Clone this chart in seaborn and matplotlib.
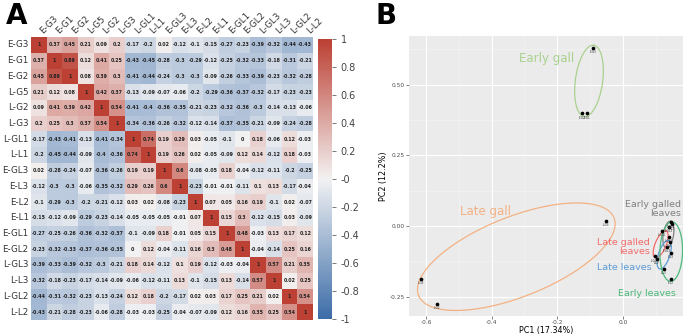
import numpy as np
import pandas as pd
import matplotlib
matplotlib.use('Agg')
import matplotlib.pyplot as plt
import seaborn as sns

# correlation matrix (panel A)
samples = ['E-G3', 'E-G1', 'E-G2', 'L-G5', 'L-G2', 'L-G3', 'L-GL1', 'L-L1', 'E-GL3',
           'E-L3', 'E-L2', 'E-L1', 'E-GL1', 'E-GL2', 'L-GL3', 'L-L3', 'L-GL2', 'L-L2']
corr_rows = [
    [1, 0.37, 0.45, 0.21, 0.09, 0.2, -0.17, -0.2, 0.02, -0.12, -0.1, -0.15, -0.27, -0.23, -0.39, -0.32, -0.44, -0.43],
    [0.37, 1, 0.89, 0.12, 0.41, 0.25, -0.43, -0.45, -0.28, -0.3, -0.29, -0.12, -0.25, -0.32, -0.33, -0.18, -0.31, -0.21],
    [0.45, 0.89, 1, 0.08, 0.39, 0.3, -0.41, -0.44, -0.24, -0.3, -0.3, -0.09, -0.26, -0.33, -0.39, -0.23, -0.32, -0.28],
    [0.21, 0.12, 0.08, 1, 0.42, 0.37, -0.13, -0.09, -0.07, -0.06, -0.2, -0.29, -0.36, -0.37, -0.32, -0.17, -0.23, -0.23],
    [0.09, 0.41, 0.39, 0.42, 1, 0.54, -0.41, -0.4, -0.36, -0.35, -0.21, -0.23, -0.32, -0.36, -0.3, -0.14, -0.13, -0.06],
    [0.2, 0.25, 0.3, 0.37, 0.54, 1, -0.34, -0.36, -0.26, -0.32, -0.12, -0.14, -0.37, -0.35, -0.21, -0.09, -0.24, -0.28],
    [-0.17, -0.43, -0.41, -0.13, -0.41, -0.34, 1, 0.74, 0.19, 0.29, 0.03, -0.05, -0.1, 0, 0.18, -0.06, 0.12, -0.03],
    [-0.2, -0.45, -0.44, -0.09, -0.4, -0.36, 0.74, 1, 0.19, 0.26, 0.02, -0.05, -0.09, 0.12, 0.14, -0.12, 0.18, -0.03],
    [0.02, -0.28, -0.24, -0.07, -0.36, -0.26, 0.19, 0.19, 1, 0.6, -0.08, -0.05, 0.18, -0.04, -0.12, -0.11, -0.2, -0.25],
    [-0.12, -0.3, -0.3, -0.06, -0.35, -0.32, 0.29, 0.26, 0.6, 1, -0.23, -0.01, -0.01, -0.11, 0.1, 0.13, -0.17, -0.04],
    [-0.1, -0.29, -0.3, -0.2, -0.21, -0.12, 0.03, 0.02, -0.08, -0.23, 1, 0.07, 0.05, 0.16, 0.19, -0.1, 0.02, -0.07],
    [-0.15, -0.12, -0.09, -0.29, -0.23, -0.14, -0.05, -0.05, -0.05, -0.01, 0.07, 1, 0.15, 0.3, -0.12, -0.15, 0.03, -0.09],
    [-0.27, -0.25, -0.26, -0.36, -0.32, -0.37, -0.1, -0.09, 0.18, -0.01, 0.05, 0.15, 1, 0.48, -0.03, 0.13, 0.17, 0.12],
    [-0.23, -0.32, -0.33, -0.37, -0.36, -0.35, 0, 0.12, -0.04, -0.11, 0.16, 0.3, 0.48, 1, -0.04, -0.14, 0.25, 0.16],
    [-0.39, -0.33, -0.39, -0.32, -0.3, -0.21, 0.18, 0.14, -0.12, 0.1, 0.19, -0.12, -0.03, -0.04, 1, 0.57, 0.21, 0.35],
    [-0.32, -0.18, -0.23, -0.17, -0.14, -0.09, -0.06, -0.12, -0.11, 0.13, -0.1, -0.15, 0.13, -0.14, 0.57, 1, 0.02, 0.25],
    [-0.44, -0.31, -0.32, -0.23, -0.13, -0.24, 0.12, 0.18, -0.2, -0.17, 0.02, 0.03, 0.17, 0.25, 0.21, 0.02, 1, 0.54],
    [-0.43, -0.21, -0.28, -0.23, -0.06, -0.28, -0.03, -0.03, -0.25, -0.04, -0.07, -0.09, 0.12, 0.16, 0.35, 0.25, 0.54, 1],
]

# PCA scores (panel B)
pc_labels = ['E-G3', 'E-G2', 'E-G1', 'L-G5', 'L-G2', 'L-G3',
             'E-GL1', 'E-GL2', 'E-GL3', 'L-GL1', 'L-GL2', 'L-GL3',
             'L-L1', 'L-L2', 'L-L3', 'E-L1', 'E-L3', 'E-L2']
pc1 = [-0.090, -0.124, -0.109, -0.614, -0.568, -0.052,
       0.146, 0.141, 0.133, 0.119, 0.140, 0.098,
       0.143, 0.103, 0.125, 0.150, 0.146, 0.146]
pc2 = [0.629, 0.399, 0.399, -0.188, -0.276, 0.019,
       0.013, -0.002, -0.074, -0.016, -0.039, -0.107,
       -0.057, -0.117, -0.152, 0.006, -0.095, -0.187]
groups = ['Early gall'] * 3 + ['Late gall'] * 3 + ['Early galled leaves'] * 3 + \
         ['Late galled leaves'] * 3 + ['Late leaves'] * 3 + ['Early leaves'] * 3
group_colors = {'Early gall': '#a9d18e', 'Late gall': '#f4b183',
                'Early galled leaves': '#7f7f7f', 'Late galled leaves': '#f26b6b',
                'Late leaves': '#5b9bd5', 'Early leaves': '#4cb87a'}

corr = pd.DataFrame(corr_rows, index=samples, columns=samples)
pca = pd.DataFrame({'PC1': pc1, 'PC2': pc2, 'label': pc_labels, 'group': groups})

fig = plt.figure(figsize=(6.85, 3.34), dpi=100)

# ---------------- Panel A ----------------
axA = fig.add_axes([0.045, 0.042, 0.412, 0.847])
cax = fig.add_axes([0.464, 0.045, 0.02, 0.838])
cmap = sns.diverging_palette(250, 15, s=75, l=45, as_cmap=True)
annot = corr.map(lambda v: f'{v:g}')
ticks = np.round(np.arange(-1, 1.01, 0.2), 1)
sns.heatmap(corr, ax=axA, cbar_ax=cax, cmap=cmap, vmin=-1, vmax=1,
            annot=annot, fmt='', annot_kws={'size': 3.4, 'weight': 'bold', 'color': '#222222'},
            linewidths=0)
axA.xaxis.tick_top()
axA.set_xticklabels(samples, rotation=45, ha='left', va='bottom', fontsize=6.3, color='#333333')
axA.set_yticklabels(samples, rotation=0, fontsize=6.3, color='#333333')
axA.tick_params(length=0, pad=1.5)
axA.set_xlabel('')
axA.set_ylabel('')
cax.set_yticks(ticks)
cax.set_yticklabels([f'{v:g}' for v in ticks])
cax.tick_params(labelsize=7, colors='#444444', length=3, width=0.5)
for s in cax.spines.values():
    s.set_visible(False)
fig.text(0.008, 0.995, 'A', fontsize=20, fontweight='bold', va='top', ha='left')

# ---------------- Panel B ----------------
axB = fig.add_axes([0.597, 0.054, 0.4, 0.838])
axB.set_facecolor('#ebebeb')
xlim = (-0.652, 0.183)
ylim = (-0.318, 0.672)
axB.set_xlim(*xlim)
axB.set_ylim(*ylim)
axB.set_xticks([-0.6, -0.4, -0.2, 0.0])
axB.set_yticks([-0.25, 0.0, 0.25, 0.5])
axB.set_xticks([-0.5, -0.3, -0.1, 0.1], minor=True)
axB.set_yticks([-0.125, 0.125, 0.375, 0.625], minor=True)
axB.grid(True, which='major', color='white', linewidth=0.8)
axB.grid(True, which='minor', color='#f5f5f5', linewidth=0.4)
axB.set_axisbelow(True)
for s in axB.spines.values():
    s.set_visible(False)
axB.set_xticklabels(['-0.6', '-0.4', '-0.2', '0.0'])
axB.set_yticklabels(['-0.25', '0.00', '0.25', '0.50'])
axB.tick_params(which='major', labelsize=4.2, colors='#4d4d4d', length=2, width=0.5, pad=1)
axB.tick_params(which='minor', length=0)

# ellipses around each group, computed in screen-like units so the shape is not squashed
sx = 685 * 0.4 / (xlim[1] - xlim[0])
sy = 334 * 0.838 / (ylim[1] - ylim[0])
t = np.linspace(0, 2 * np.pi, 200)
for g, sub in pca.groupby('group', sort=False):
    xy = sub[['PC1', 'PC2']].to_numpy() * [sx, sy]
    vals, vecs = np.linalg.eigh(np.cov(xy, rowvar=False))
    major, minor = vecs[:, 1], vecs[:, 0]
    pm = xy @ major
    pn = xy @ minor
    centre = major * (pm.max() + pm.min()) / 2 + minor * pn.mean()
    a = 1.09 * (pm.max() - pm.min()) / 2
    b = max(1.1 * (pn.max() - pn.min()) / 2, 0.38 * a)
    pts = centre + np.outer(a * np.cos(t), major) + np.outer(b * np.sin(t), minor)
    axB.plot(pts[:, 0] / sx, pts[:, 1] / sy, color=group_colors[g], linewidth=0.9)

sns.scatterplot(data=pca, x='PC1', y='PC2', ax=axB, color='black', s=7, linewidth=0, zorder=3)
for _, r in pca.iterrows():
    axB.text(r.PC1, r.PC2 - 0.008, r.label, fontsize=2.0, ha='center', va='top', color='#333333')

axB.set_xlabel('PC1 (17.34%)', fontsize=5.8, labelpad=0.5)
axB.set_ylabel('PC2 (12.2%)', fontsize=5.8, labelpad=1)

axB.text(-0.232, 0.594, 'Early gall', color=group_colors['Early gall'], fontsize=8.5, ha='center', va='center')
axB.text(-0.42, 0.052, 'Late gall', color=group_colors['Late gall'], fontsize=8.5, ha='center', va='center')
axB.text(0.177, 0.06, 'Early galled\nleaves', color=group_colors['Early galled leaves'], fontsize=6.8,
         ha='right', va='center', linespacing=1.1)
axB.text(0.082, -0.074, 'Late galled\nleaves', color=group_colors['Late galled leaves'], fontsize=6.8,
         ha='right', va='center', linespacing=1.1)
axB.text(0.087, -0.146, 'Late leaves', color=group_colors['Late leaves'], fontsize=6.8, ha='right', va='center')
axB.text(0.162, -0.24, 'Early leaves', color=group_colors['Early leaves'], fontsize=6.8, ha='right', va='center')
fig.text(0.548, 0.995, 'B', fontsize=20, fontweight='bold', va='top', ha='left')

fig.savefig('out.png', dpi=100)
